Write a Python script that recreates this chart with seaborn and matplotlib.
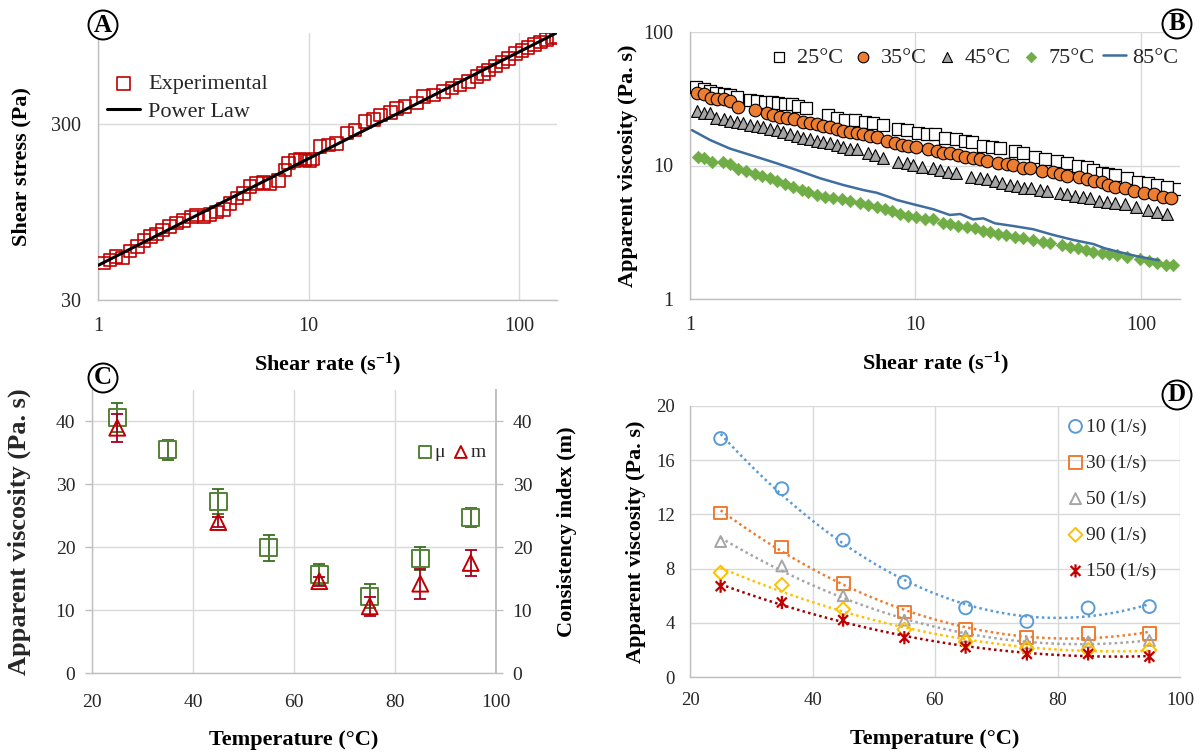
import numpy as np
import matplotlib
matplotlib.use('Agg')
import matplotlib.pyplot as plt
import seaborn as sns
from matplotlib.path import Path
from matplotlib.ticker import NullLocator, MultipleLocator

# ---------------- DATA ----------------
# Panel A: shear stress vs shear rate
a_rate = [1.06, 1.14, 1.22, 1.31, 1.42, 1.54, 1.65, 1.77, 1.89, 2.03, 2.18, 2.36, 2.54, 2.78, 2.94,
          3.19, 3.40, 3.66, 3.94, 4.24, 4.56, 4.90, 5.27, 5.67, 6.10, 6.56, 7.19, 7.73, 8.02, 8.6,
          9.1, 9.6, 10.1, 10.5, 11.3, 12.4, 13.6, 15.2, 16.6, 18.5, 20.3, 21.9, 24.4, 26.2, 28.7,
          32.6, 35.1, 39.2, 43.7, 47.9, 52.4, 57.5, 63.0, 67.7, 71.5, 77, 83, 89, 96, 103, 110,
          118, 126, 135, 143, 150]
a_stress = [48.8, 50.5, 52.8, 52.0, 57.1, 60.2, 65.1, 68.6, 71.0, 75.0, 78.7, 82.3, 85.1, 89.0, 91.0,
            89.0, 91.8, 95.1, 98.0, 106, 114, 121, 132, 138, 139, 138, 143, 164, 180, 186,
            190, 187, 185, 190, 223, 228, 233, 266, 277, 309, 319, 337, 348, 368, 376,
            394, 429, 439, 459, 480, 500, 522, 557, 582, 609, 640, 675, 705, 752, 785, 815,
            850, 878, 905, 930, 945]

# Panel B: apparent viscosity vs shear rate at several temperatures
b25_x = [1.06, 1.15, 1.23, 1.31, 1.41, 1.51, 1.61, 1.85, 1.99, 2.15, 2.30, 2.46, 2.64, 2.82, 3.02, 3.27,
         4.10, 4.47, 4.87, 5.39, 5.97, 6.50, 7.20, 8.39, 9.20, 10.3, 11.2, 12.2, 13.5, 15.2, 16.6, 17.9,
         20.0, 21.8, 23.7, 27.6, 30.1, 33.9, 37.5, 42.3, 46.8, 52.7, 57.4, 61.5, 66.9, 71.5, 76.7, 86.5,
         97, 107, 118, 131, 148]
b25_y = [38.5, 37.2, 36.3, 35.1, 34.3, 33.7, 32.8, 31.0, 30.6, 30.1, 29.7, 29.2, 28.9, 28.7, 28.0, 26.8,
         23.9, 22.8, 21.9, 21.9, 21.3, 20.7, 20.1, 18.7, 18.5, 17.6, 17.1, 17.1, 16.2, 15.7, 15.3, 15.1,
         14.0, 13.8, 13.6, 12.8, 12.3, 11.6, 11.1, 10.8, 10.4, 9.97, 9.69, 9.25, 8.83, 8.65, 8.49, 8.02,
         7.56, 7.36, 7.14, 6.94, 6.63]
b35_x = [1.07, 1.15, 1.24, 1.32, 1.42, 1.51, 1.64, 1.94, 2.19, 2.34, 2.51, 2.68, 2.89, 3.18, 3.41, 3.65,
         3.90, 4.18, 4.47, 4.79, 5.12, 5.49, 5.87, 6.28, 6.73, 7.45, 8.11, 8.68, 9.29, 10.1, 11.4, 12.4,
         13.3, 14.3, 15.5, 16.6, 18.0, 19.3, 20.8, 23.3, 25.4, 27.2, 29.9, 32.2, 36.3, 40.6, 43.7, 46.8,
         53.2, 57.4, 61.9, 66.9, 71.5, 76.7, 84.6, 93, 103, 114, 125, 136]
b35_y = [35.1, 34.3, 31.9, 31.3, 31.3, 30.4, 27.6, 26.0, 24.6, 23.9, 23.2, 22.6, 22.2, 21.3, 20.7, 20.3,
         19.8, 19.3, 18.7, 18.1, 17.9, 17.6, 17.1, 16.7, 16.4, 15.3, 14.7, 14.2, 14.0, 13.8, 13.2, 12.8,
         12.5, 12.3, 12.0, 11.5, 11.3, 11.1, 10.9, 10.5, 10.3, 10.1, 9.64, 9.53, 9.14, 8.89, 8.63, 8.34,
         8.15, 7.92, 7.65, 7.48, 7.2, 6.94, 6.75, 6.47, 6.25, 6.12, 5.84, 5.74]
b45_x = [1.07, 1.15, 1.23, 1.31, 1.41, 1.50, 1.61, 1.72, 1.85, 1.98, 2.11, 2.26, 2.42, 2.59, 2.77, 2.97,
         3.18, 3.41, 3.65, 3.90, 4.18, 4.47, 4.79, 5.12, 5.49, 6.18, 6.61, 7.20, 8.39, 9.14, 9.80, 10.7,
         12.0, 12.8, 14.0, 15.2, 17.7, 19.3, 20.7, 22.5, 24.3, 26.2, 28.1, 30.4, 32.7, 35.7, 38.2, 43.7,
         46.8, 51.2, 55.4, 59.4, 64.9, 70.5, 76.7, 84.6, 95, 107, 118, 131]
b45_y = [25.7, 24.9, 24.6, 22.6, 22.2, 21.7, 21.3, 20.7, 20.1, 19.8, 19.3, 18.7, 18.5, 17.9, 17.2, 16.7,
         16.1, 15.7, 15.3, 15.1, 14.7, 14.2, 13.8, 13.4, 13.3, 12.3, 12.0, 11.3, 10.7, 10.4, 10.1, 9.69,
         9.53, 9.25, 8.99, 8.73, 8.15, 8.02, 7.87, 7.69, 7.35, 7.14, 7.02, 6.75, 6.82, 6.55, 6.47, 6.25,
         6.12, 5.94, 5.84, 5.68, 5.45, 5.33, 5.21, 5.12, 4.86, 4.64, 4.51, 4.33]
b75_x = [1.09, 1.15, 1.25, 1.40, 1.50, 1.64, 1.78, 1.94, 2.08, 2.26, 2.42, 2.64, 2.87, 3.13, 3.35, 3.65,
         3.97, 4.32, 4.70, 5.12, 5.67, 6.18, 6.73, 7.32, 7.84, 8.53, 9.29, 10.1, 11.0, 12.0, 13.3, 14.2,
         15.5, 16.9, 18.4, 19.9, 21.4, 23.3, 25.2, 27.6, 29.9, 33.3, 36.6, 39.4, 44.6, 48.6, 52.7, 57.2,
         61.5, 66.9, 72.5, 78.3, 86.5, 99, 109, 118, 129, 139]
b75_y = [11.5, 11.3, 10.7, 10.7, 10.2, 9.36, 9.14, 8.63, 8.34, 8.02, 7.69, 7.27, 6.87, 6.55, 6.37, 6.01,
         5.78, 5.68, 5.58, 5.45, 5.21, 5.06, 4.86, 4.70, 4.56, 4.33, 4.19, 4.09, 3.97, 3.97, 3.73, 3.65,
         3.52, 3.44, 3.39, 3.25, 3.16, 3.07, 3.02, 2.93, 2.88, 2.77, 2.69, 2.64, 2.54, 2.46, 2.40, 2.33,
         2.26, 2.20, 2.17, 2.14, 2.07, 1.98, 1.94, 1.87, 1.80, 1.80]
b85_x = [1.02, 1.23, 1.50, 1.91, 2.42, 2.97, 3.78, 4.79, 5.87, 6.73, 7.57, 8.26, 9.80, 12.0, 14.2,
         15.8, 18.0, 20.0, 22.5, 27.2, 33.3, 40.8, 50.1, 61.5, 69, 80, 95, 110, 120]
b85_y = [18.4, 15.5, 13.4, 11.8, 10.4, 9.25, 8.02, 7.14, 6.55, 6.25, 5.84, 5.52, 5.12, 4.70, 4.26,
         4.33, 3.95, 4.02, 3.69, 3.52, 3.33, 3.02, 2.77, 2.58, 2.40, 2.25, 2.10, 2.00, 1.95]

# Panel C: apparent viscosity (mu) and consistency index (m) vs temperature
c_temp = [25, 35, 45, 55, 65, 75, 85, 95]
c_mu = [40.6, 35.5, 27.3, 19.9, 15.7, 12.2, 18.2, 24.7]
c_mu_err = [2.3, 1.6, 2.0, 2.1, 1.7, 1.9, 1.8, 1.5]
c_m_temp = [25, 45, 65, 75, 85, 95]
c_m = [39.0, 24.0, 14.6, 10.6, 14.2, 17.5]
c_m_err = [2.2, 0.8, 0.7, 1.5, 2.4, 2.1]

# Panel D: apparent viscosity vs temperature at several shear rates
d_temp = [25, 35, 45, 55, 65, 75, 85, 95]
d_labels = ['10 (1/s)', '30 (1/s)', '50 (1/s)', '90 (1/s)', '150 (1/s)']
d_10 = [17.6, 13.9, 10.1, 7.0, 5.1, 4.1, 5.1, 5.2]
d_30 = [12.1, 9.6, 6.9, 4.8, 3.5, 2.9, 3.2, 3.2]
d_50 = [10.0, 8.2, 6.0, 4.2, 3.0, 2.5, 2.6, 2.7]
d_90 = [7.7, 6.8, 5.0, 3.5, 2.6, 2.1, 2.0, 2.0]
d_150 = [6.7, 5.5, 4.2, 2.9, 2.2, 1.7, 1.7, 1.5]

# ---------------- STYLE ----------------
sns.set_theme(style='white')
plt.rcParams['font.family'] = ['Liberation Serif', 'DejaVu Serif']
plt.rcParams['mathtext.fontset'] = 'custom'
plt.rcParams['mathtext.rm'] = 'Liberation Serif'
plt.rcParams['mathtext.bf'] = 'Liberation Serif:bold'
plt.rcParams['mathtext.it'] = 'Liberation Serif:italic'

GRID = '#D9D9D9'
SPINE = '#BFBFBF'
TXT = '#262626'

fig = plt.figure(figsize=(12.04, 7.56), dpi=100)
W, H = 1204, 756


def add_ax(l, r, t, b):
    return fig.add_axes([l / W, 1 - b / H, (r - l) / W, (b - t) / H])


def style(ax, labelsize=14.5, pad=12):
    ax.set_facecolor('white')
    for s in ['top', 'right']:
        ax.spines[s].set_visible(False)
    for s in ['left', 'bottom']:
        ax.spines[s].set_color(SPINE)
        ax.spines[s].set_linewidth(1.0)
    ax.grid(True, color=GRID, lw=1.0, zorder=0)
    ax.set_axisbelow(True)
    ax.tick_params(axis='both', which='both', length=0, labelsize=labelsize, pad=pad,
                   labelcolor=TXT)


label_kw = dict(fontsize=16, fontweight='bold', color='black')

# ---------------- PANEL A ----------------
axA = add_ax(98, 557, 33, 300)
style(axA)
axA.set_xscale('log')
axA.set_yscale('log')
sns.scatterplot(x=a_rate, y=a_stress, ax=axA, marker='s', s=82, facecolor='none',
                edgecolor='#C00000', linewidth=1.2, label='Experimental', zorder=3)
coef = np.polyfit(np.log10(a_rate), np.log10(a_stress), 1)
xfit = np.array([1.0, a_rate[-1]])
yfit = 10 ** np.polyval(coef, np.log10(xfit))
sns.lineplot(x=xfit, y=yfit, ax=axA, color='black', lw=2.2, label='Power Law', zorder=4)
axA.set_xlim(1, 151)
axA.set_ylim(30, 986)
axA.set_xticks([1, 10, 100])
axA.set_xticklabels(['1', '10', '100'])
axA.set_yticks([30, 300])
axA.set_yticklabels(['30', '300'])
axA.xaxis.set_minor_locator(NullLocator())
axA.yaxis.set_minor_locator(NullLocator())
axA.set_xlabel(r'Shear rate (s$^{\mathbf{-1}}$)', labelpad=11, **label_kw)
axA.set_ylabel('Shear stress (Pa)', labelpad=14, **label_kw)
axA.legend(loc='upper left', bbox_to_anchor=(0.0, 0.88), frameon=False, fontsize=16,
           handlelength=1.5, handletextpad=0.35, borderaxespad=0, labelspacing=0.32)

# ---------------- PANEL B ----------------
axB = add_ax(690, 1180, 32, 299)
style(axB)
axB.set_xscale('log')
axB.set_yscale('log')
sns.scatterplot(x=b25_x, y=b25_y, ax=axB, marker='s', s=66, facecolor='white',
                edgecolor='black', linewidth=0.9, label='25°C', zorder=3)
sns.scatterplot(x=b35_x, y=b35_y, ax=axB, marker='o', s=82, facecolor='#ED7D31',
                edgecolor='black', linewidth=0.8, label='35°C', zorder=3)
sns.scatterplot(x=b45_x, y=b45_y, ax=axB, marker='^', s=72, facecolor='#A5A5A5',
                edgecolor='black', linewidth=0.8, label='45°C', zorder=3)
sns.scatterplot(x=b75_x, y=b75_y, ax=axB, marker='D', s=40, facecolor='#70AD47',
                edgecolor='#70AD47', linewidth=0.5, label='75°C', zorder=3)
sns.lineplot(x=b85_x, y=b85_y, ax=axB, color='#3F6E9E', lw=1.8, label='85°C', zorder=3)
axB.set_xlim(1, 149)
axB.set_ylim(1, 100)
axB.set_xticks([1, 10, 100])
axB.set_xticklabels(['1', '10', '100'])
axB.set_yticks([1, 10, 100])
axB.set_yticklabels(['1', '10', '100'])
axB.xaxis.set_minor_locator(NullLocator())
axB.yaxis.set_minor_locator(NullLocator())
axB.set_xlabel(r'Shear rate (s$^{\mathbf{-1}}$)', labelpad=11, **label_kw)
axB.set_ylabel('Apparent viscosity (Pa. s)', labelpad=4, **label_kw)
axB.legend(loc='center right', bbox_to_anchor=(1.015, 0.905), frameon=False, fontsize=16,
           ncol=5, handlelength=1.0, handletextpad=0.3, columnspacing=0.4, borderaxespad=0,
           markerscale=0.85)

# ---------------- PANEL C ----------------
axC = add_ax(92, 496, 390, 673)
style(axC, labelsize=14, pad=7)
axC.spines['right'].set_visible(True)
axC.spines['right'].set_color(SPINE)
axC.errorbar(c_temp, c_mu, yerr=c_mu_err, fmt='none', ecolor='#3B6E22', elinewidth=1.3,
             capsize=4, capthick=1.3, zorder=3)
sns.scatterplot(x=c_temp, y=c_mu, ax=axC, marker='s', s=150, facecolor='none',
                edgecolor='#548235', linewidth=1.4, label='μ', zorder=4)
axC.set_xlim(20, 100)
axC.set_ylim(0, 45)
axC.set_xticks([20, 40, 60, 80, 100])
axC.set_yticks([0, 10, 20, 30, 40])
axC.xaxis.set_minor_locator(MultipleLocator(4))
axC.tick_params(axis='y', which='major', length=5, width=1, color=SPINE, direction='out')
axC.tick_params(axis='x', which='major', length=5, width=1, color=SPINE, direction='out', pad=10)
axC.tick_params(axis='x', which='minor', length=5, width=1, color=SPINE, direction='inout')
axC.set_xlabel('Temperature (°C)', labelpad=14, **label_kw)
axC.set_ylabel('Apparent viscosity (Pa. s)', labelpad=18, fontsize=19, fontweight='bold')

axC2 = axC.twinx()
axC2.set_ylim(0, 45)
axC2.set_yticks([0, 10, 20, 30, 40])
for s in ['top', 'left', 'bottom']:
    axC2.spines[s].set_visible(False)
axC2.spines['right'].set_color(SPINE)
axC2.tick_params(axis='y', length=5, width=1, color=SPINE, direction='out', labelsize=14,
                 pad=7, labelcolor=TXT)
axC2.errorbar(c_m_temp, c_m, yerr=c_m_err, fmt='none', ecolor='#A50021', elinewidth=1.3,
              capsize=4, capthick=1.3, zorder=3)
sns.scatterplot(x=c_m_temp, y=c_m, ax=axC2, marker='^', s=130, facecolor='none',
                edgecolor='#C00000', linewidth=1.4, label='m', zorder=4)
axC2.set_ylabel('Consistency index (m)', labelpad=18, rotation=90, **label_kw)
h1, l1 = axC.get_legend_handles_labels()
h2, l2 = axC2.get_legend_handles_labels()
if axC.get_legend() is not None:
    axC.get_legend().remove()
axC2.legend(h1 + h2, l1 + l2, loc='center', bbox_to_anchor=(0.89, 0.78), frameon=False,
            fontsize=14, ncol=2, handlelength=0.8, handletextpad=0.1, columnspacing=0.4,
            markerscale=0.75, borderaxespad=0)

# ---------------- PANEL D ----------------
axD = add_ax(690, 1180, 406, 677)
style(axD, labelsize=13.5, pad=11)
star = Path([(0, -1), (0, 1), (-0.75, -0.75), (0.75, 0.75), (-0.75, 0.75), (0.75, -0.75)],
            [Path.MOVETO, Path.LINETO, Path.MOVETO, Path.LINETO, Path.MOVETO, Path.LINETO])
d_series = [d_10, d_30, d_50, d_90, d_150]
d_colors = ['#5B9BD5', '#ED7D31', '#A5A5A5', '#FFC000', '#C00000']
d_line_colors = ['#5B9BD5', '#ED7D31', '#A5A5A5', '#FFC000', '#A00000']
d_markers = ['o', 's', '^', 'D', star]
d_sizes = [85, 85, 62, 50, 90]
for vals, lab, c, lc, mk, sz in zip(d_series, d_labels, d_colors, d_line_colors, d_markers, d_sizes):
    sns.regplot(x=np.array(d_temp, float), y=np.array(vals, float), ax=axD, order=2, ci=None,
                scatter=False, truncate=True,
                line_kws=dict(ls=(0, (1, 1.3)), lw=1.8, color=lc, zorder=2))
    sns.scatterplot(x=d_temp, y=vals, ax=axD, marker=mk, s=sz, facecolor='none',
                    edgecolor=c, linewidth=1.6 if mk is star else 1.4, label=lab, zorder=4)
axD.set_xlim(20, 100)
axD.set_ylim(0, 20)
axD.set_xticks([20, 40, 60, 80, 100])
axD.set_yticks([0, 4, 8, 12, 16, 20])
axD.set_xlabel('Temperature (°C)', labelpad=14, **label_kw)
axD.set_ylabel('Apparent viscosity (Pa. s)', labelpad=7, **label_kw)
hD, lD = axD.get_legend_handles_labels()
axD.legend(hD, lD, loc='upper left', bbox_to_anchor=(0.755, 0.985), frameon=False, fontsize=14,
           handlelength=0.8, handletextpad=0.15, labelspacing=0.95, borderaxespad=0)

# ---------------- PANEL LETTERS ----------------
for letter, (px, py) in zip('ABCD', [(103, 25), (1177, 24), (103, 378), (1177, 395)]):
    fig.text(px / W, 1 - py / H, letter, ha='center', va='center', fontsize=18,
             fontweight='bold', color='black',
             bbox=dict(boxstyle='circle,pad=0.12', fc='white', ec='black', lw=1.4))

fig.savefig('out.png', dpi=100, facecolor='white')
